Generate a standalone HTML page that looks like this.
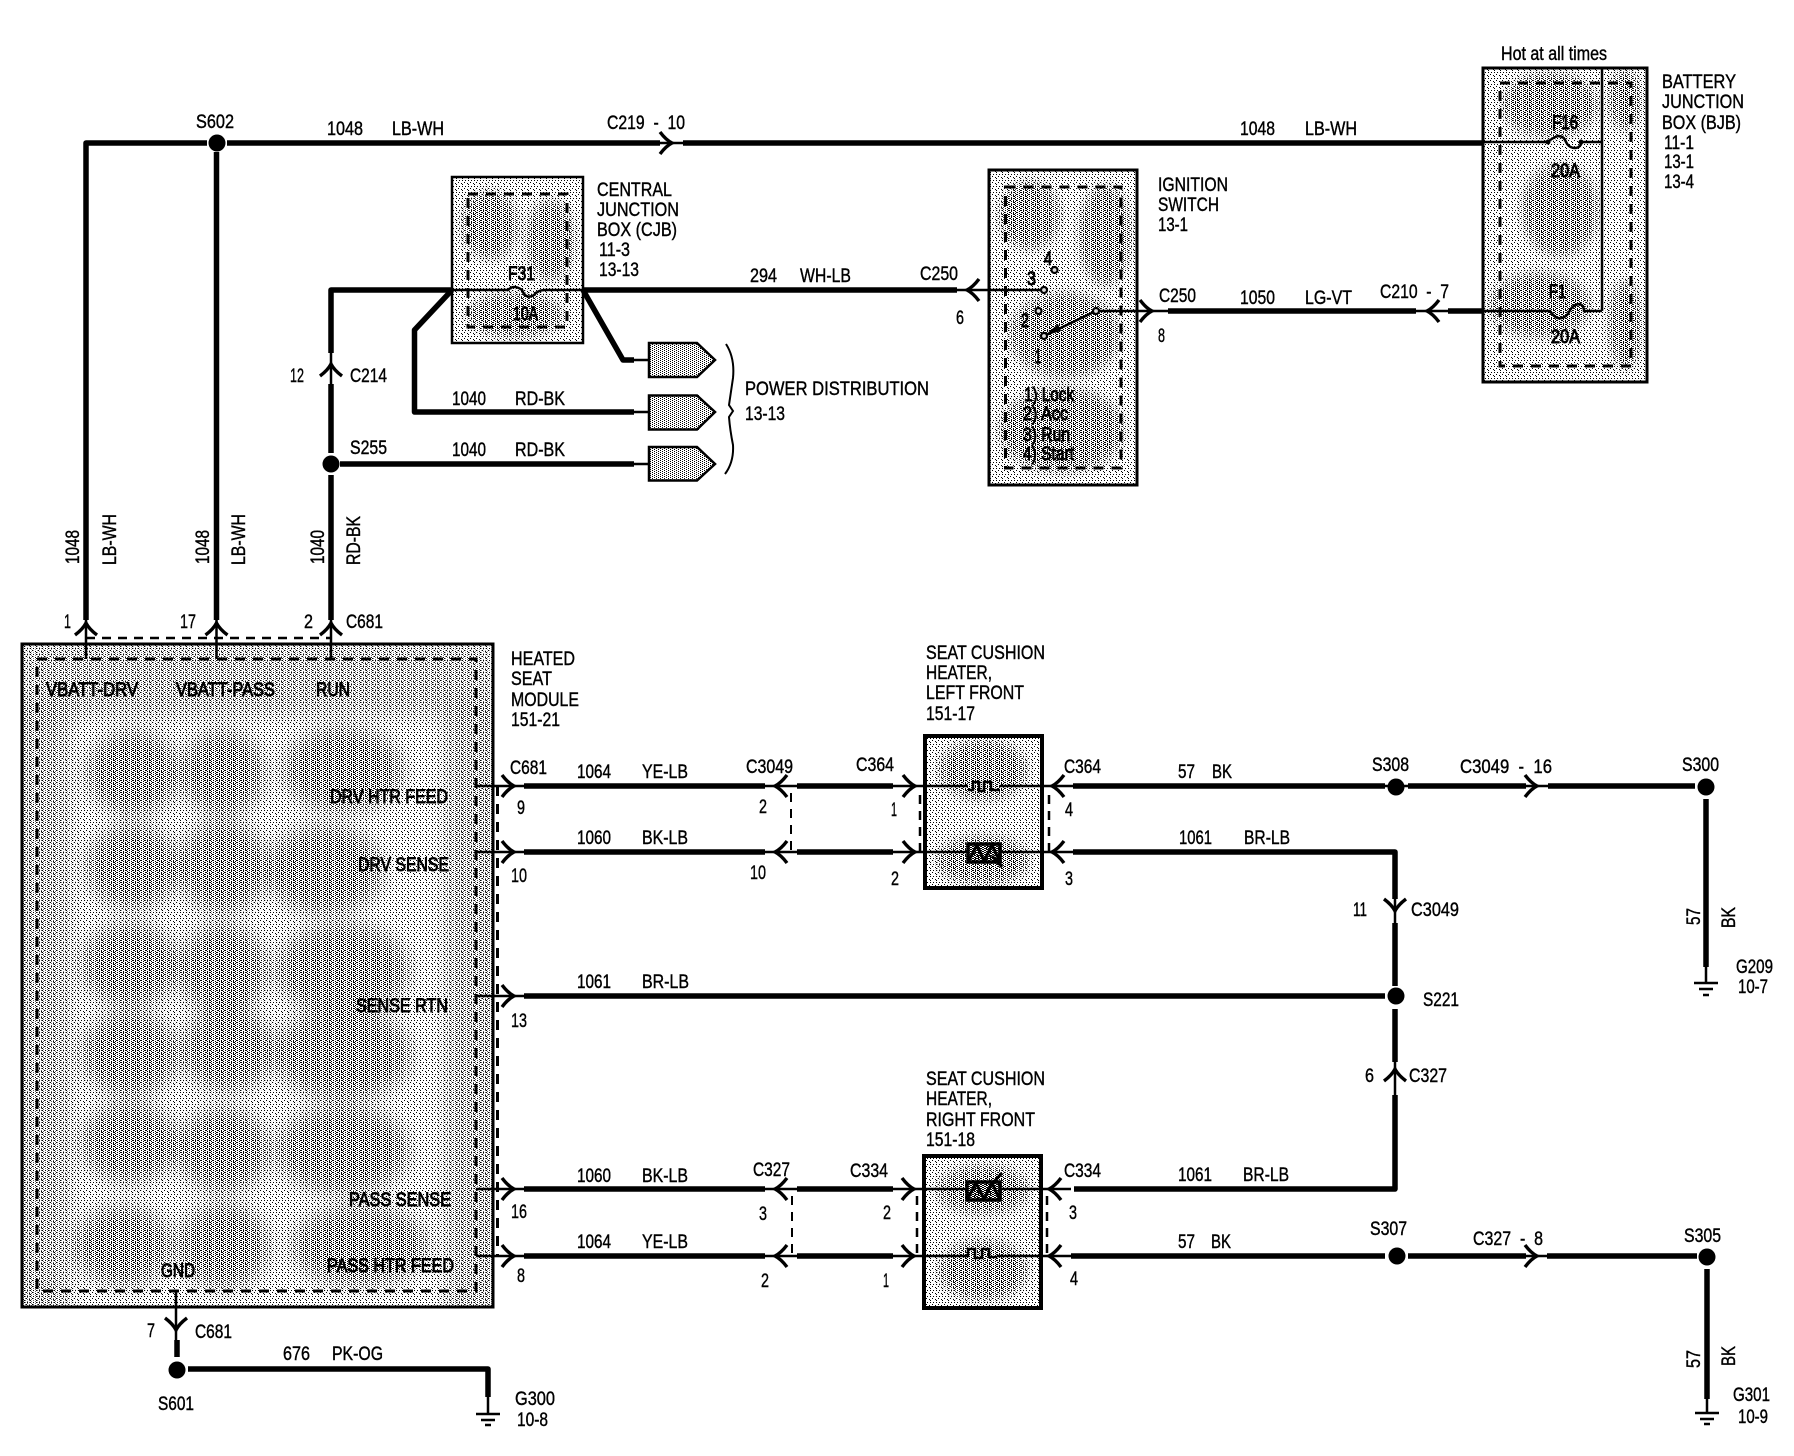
<!DOCTYPE html>
<html><head><meta charset="utf-8"><style>
html,body{margin:0;padding:0;background:#fff}
svg{display:block}
text{font-family:"Liberation Sans",sans-serif;font-size:19px;fill:#000;stroke:#000;stroke-width:.4}
.w{fill:none;stroke:#000;stroke-width:5.5;stroke-linejoin:round}
.t{fill:none;stroke:#000;stroke-width:2.5}
.d{fill:none;stroke:#000;stroke-width:3;stroke-dasharray:10 8}
.e{fill:none;stroke:#000;stroke-width:2;stroke-dasharray:9 7}
.b{fill:none;stroke:#000;stroke-width:3}
.m text{stroke-width:.9}
</style></head><body>
<svg xmlns="http://www.w3.org/2000/svg" width="1794" height="1456" viewBox="0 0 1794 1456">
<defs>
<pattern id="p1" width="6" height="6" patternUnits="userSpaceOnUse"><path d="M0 0h1v1h-1zM3 0h1v1h-1zM2 2h1v1h-1zM5 3h1v1h-1zM0 4h1v1h-1z" shape-rendering="crispEdges"/></pattern>
<pattern id="p3" width="4" height="4" patternUnits="userSpaceOnUse"><path d="M0 0h1v1h-1zM2 1h1v1h-1zM0 2h1v1h-1zM2 3h1v1h-1z" shape-rendering="crispEdges"/></pattern>
<pattern id="p2" width="4" height="4" patternUnits="userSpaceOnUse"><path d="M1 0h1v1h-1zM3 1h1v1h-1zM1 2h1v1h-1zM3 3h1v1h-1z" shape-rendering="crispEdges"/></pattern>
<path id="ar" d="M-12 -11Q-6 -3 0 0Q-6 3 -12 11" fill="none" stroke="#000" stroke-width="3.4"/>
<filter id="bl" x="-30%" y="-30%" width="160%" height="160%"><feGaussianBlur stdDeviation="9"/></filter>
<filter id="bs" x="-40%" y="-40%" width="180%" height="180%"><feGaussianBlur stdDeviation="5"/></filter>
<mask id="mk" maskUnits="userSpaceOnUse" x="0" y="0" width="1794" height="1456">
<rect width="1794" height="1456" fill="#000"/>
<g filter="url(#bl)" fill="#fff">
<rect x="22" y="644" width="471" height="72" opacity=".55"/>
<rect x="10" y="700" width="60" height="620" opacity=".6"/>
<rect x="445" y="700" width="60" height="620" opacity=".6"/>
<ellipse cx="133" cy="773" rx="46" ry="42"/><ellipse cx="223" cy="773" rx="42" ry="42"/><ellipse cx="343" cy="770" rx="60" ry="42"/>
<ellipse cx="133" cy="867" rx="46" ry="42"/><ellipse cx="223" cy="867" rx="44" ry="46"/><ellipse cx="325" cy="870" rx="58" ry="44"/>
<ellipse cx="130" cy="965" rx="48" ry="42"/><ellipse cx="223" cy="970" rx="44" ry="46"/><ellipse cx="343" cy="970" rx="66" ry="46"/>
<ellipse cx="130" cy="1054" rx="48" ry="42"/><ellipse cx="228" cy="1050" rx="46" ry="42"/><ellipse cx="343" cy="1054" rx="68" ry="46"/>
<ellipse cx="130" cy="1143" rx="48" ry="40"/><ellipse cx="223" cy="1150" rx="46" ry="42"/><ellipse cx="343" cy="1150" rx="66" ry="44"/>
<ellipse cx="123" cy="1246" rx="48" ry="40"/><ellipse cx="223" cy="1246" rx="46" ry="42"/><ellipse cx="360" cy="1246" rx="68" ry="40"/>
</g>
<g filter="url(#bs)" fill="#fff">
<ellipse cx="490" cy="225" rx="28" ry="34"/><ellipse cx="550" cy="240" rx="24" ry="40"/><ellipse cx="515" cy="315" rx="48" ry="22"/>
<ellipse cx="1030" cy="215" rx="30" ry="34"/><ellipse cx="1105" cy="235" rx="26" ry="50"/><ellipse cx="1065" cy="335" rx="55" ry="42"/><ellipse cx="1062" cy="430" rx="62" ry="42"/>
<ellipse cx="1550" cy="105" rx="48" ry="32"/><ellipse cx="1560" cy="210" rx="38" ry="46"/><ellipse cx="1540" cy="305" rx="50" ry="32"/><ellipse cx="1625" cy="100" rx="16" ry="30"/><ellipse cx="1625" cy="325" rx="16" ry="44"/>
<ellipse cx="983" cy="770" rx="44" ry="30"/><ellipse cx="983" cy="860" rx="46" ry="24"/>
<ellipse cx="983" cy="1190" rx="46" ry="24"/><ellipse cx="983" cy="1270" rx="44" ry="30"/>
</g>
</mask>
</defs>
<rect width="1794" height="1456" fill="#fff"/>

<!-- Box fills -->
<rect x="22" y="644" width="471" height="663" fill="url(#p1)"/>
<rect x="452" y="177" width="131" height="166" fill="url(#p1)"/>
<rect x="989" y="170" width="148" height="315" fill="url(#p1)"/>
<rect x="1483" y="68" width="164" height="314" fill="url(#p1)"/>
<rect x="925" y="736" width="117" height="152" fill="url(#p1)"/>
<rect x="924" y="1156" width="117" height="152" fill="url(#p1)"/>
<rect x="649" y="343" width="50" height="34" fill="url(#p3)"/><rect x="649" y="395" width="50" height="35" fill="url(#p3)"/><rect x="649" y="447" width="50" height="34" fill="url(#p3)"/>
<g mask="url(#mk)">
<rect x="22" y="644" width="471" height="663" fill="url(#p2)"/>
<rect x="452" y="177" width="131" height="166" fill="url(#p2)"/>
<rect x="989" y="170" width="148" height="315" fill="url(#p2)"/>
<rect x="1483" y="68" width="164" height="314" fill="url(#p2)"/>
<rect x="925" y="736" width="117" height="152" fill="url(#p2)"/>
<rect x="924" y="1156" width="117" height="152" fill="url(#p2)"/>
</g>

<!-- Box outlines -->
<rect x="22" y="644" width="471" height="663" class="b"/>
<rect x="37" y="659" width="439" height="632" class="d"/>
<rect x="452" y="177" width="131" height="166" class="b" style="stroke-width:2.5"/>
<rect x="468" y="194" width="99" height="133" class="d"/>
<rect x="989" y="170" width="148" height="315" class="b"/>
<rect x="1005.5" y="187" width="115.5" height="281" class="d"/>
<rect x="1483" y="68" width="164" height="314" class="b"/>
<rect x="1500" y="83" width="131" height="283" class="d"/>
<path d="M1602 68V311" class="t"/>
<rect x="925" y="736" width="117" height="152" fill="none" stroke="#000" stroke-width="4"/>
<rect x="924" y="1156" width="117" height="152" fill="none" stroke="#000" stroke-width="4"/>

<!-- Thick wires -->
<g class="w">
<path d="M207 143H86V620"/>
<path d="M227 143H660"/>
<path d="M683 143H1483"/>
<path d="M216.500 152V620"/>
<path d="M452 290H331V353"/>
<path d="M331 384V453"/>
<path d="M331 475V620"/>
<path d="M340 464H634"/>
<path d="M452 290L414.500 330V412H634"/>
<path d="M583 290L623 360H634"/>
<path d="M583 290H957"/>
<path d="M1168 311H1416"/>
<path d="M1448 311H1483"/>
<path d="M524 786H765M797 786H893"/>
<path d="M524 852H765M797 852H893"/>
<path d="M1073 786H1385M1408 786H1526M1548 786H1695"/>
<path d="M1073 852H1395V899"/>
<path d="M1395 923V986M1395 1009V1062M1395 1095V1189H1074"/>
<path d="M524 996H1385"/>
<path d="M524 1189H765M797 1189H893"/>
<path d="M524 1256H765M797 1256H893"/>
<path d="M1071 1256H1385M1408 1256H1526M1547 1256H1697"/>
<path d="M1706 799V967M1707 1269V1399"/>
<path d="M177 1340V1357M188 1369H488V1397"/>
</g>

<!-- Thin wires -->
<g class="t">
<path d="M86 620V659M216.500 620V659M331 620V659M331 353V384"/>
<path d="M660 143H683"/>
<path d="M452 290H508Q514 284 522 290Q526 300 534 295Q538 290 545 290H583"/>
<path d="M634 360H649M634 412H649M634 464H649"/>
<path d="M957 290H1044M1096 311H1168M1416 311H1448"/>
<path d="M1096 311L1044 336"/>
<path d="M1483 142H1548Q1552 138 1558 136Q1564 136 1566 142Q1569 148 1575 148Q1580 148 1582 142H1602"/>
<path d="M1483 311H1550Q1556 320 1562 318Q1568 316 1570 310Q1574 304 1580 304Q1584 306 1584 311H1602"/>
<path d="M476 786H524M765 786H797M893 786H968M1000 786H1073"/>
<path d="M476 852H524M765 852H797M893 852H967M1000 852H1073"/>
<path d="M476 996H524"/>
<path d="M476 1189H524M765 1189H797M893 1189H966M1000 1189H1071"/>
<path d="M476 1256H524M765 1256H797M893 1256H963M997 1256H1071"/>
<path d="M1395 899V923M1395 1062V1095"/>
<path d="M1385 786H1408M1526 786H1548M1526 1256H1547"/>
<path d="M176 1291V1340"/>
<path d="M488 1397V1414M1706 967V983M1707 1399V1413"/>
<path d="M476 1414H500M481 1420H495M485 1425H491"/>
<path d="M1694 983H1718M1699 989H1713M1703 995H1709"/>
<path d="M1695 1413H1719M1700 1419H1714M1704 1424H1710"/>
<path d="M968 790H973V782H979V791H984V782H991V790H1000"/>
<path d="M963 1256H968V1249H975V1258H982V1249H989V1257H997"/>
</g>
<!-- Sensor symbols -->
<rect x="968" y="844" width="32" height="18" fill="url(#p3)" stroke="#000" stroke-width="3.5"/>
<path d="M968 862L977 845L984 861L992 845L1000 862M992 856L1002 867" fill="none" stroke="#000" stroke-width="3"/>
<rect x="967" y="1182" width="33" height="18" fill="url(#p3)" stroke="#000" stroke-width="3.5"/>
<path d="M967 1200L976 1183L984 1199L992 1183L1000 1200M990 1186L1002 1173" fill="none" stroke="#000" stroke-width="3"/>

<!-- Dashed links -->
<path d="M86 638H331" class="e" style="stroke-width:2.500"/>
<path d="M497.500 786V1256" class="d"/>
<path d="M791 793V852M792 1196V1256" class="e"/>
<path d="M920 795V852M917 1196V1256M1049 795V852M1047 1196V1256" class="e" style="stroke-width:2.500"/>

<!-- Chevrons -->
<g>
<use href="#ar" transform="translate(672 143)"/>
<use href="#ar" transform="translate(86 623) rotate(-90)"/>
<use href="#ar" transform="translate(216.500 623) rotate(-90)"/>
<use href="#ar" transform="translate(331 623) rotate(-90)"/>
<use href="#ar" transform="translate(331 364) rotate(-90)"/>
<use href="#ar" transform="translate(967 290) rotate(180)"/>
<use href="#ar" transform="translate(1152 311)"/>
<use href="#ar" transform="translate(1427 311) rotate(180)"/>
<use href="#ar" transform="translate(514 786)"/>
<use href="#ar" transform="translate(514 852)"/>
<use href="#ar" transform="translate(514 996)"/>
<use href="#ar" transform="translate(514 1189)"/>
<use href="#ar" transform="translate(514 1256)"/>
<use href="#ar" transform="translate(775 786) rotate(180)"/>
<use href="#ar" transform="translate(775 852) rotate(180)"/>
<use href="#ar" transform="translate(775 1189) rotate(180)"/>
<use href="#ar" transform="translate(775 1256) rotate(180)"/>
<use href="#ar" transform="translate(915 786)"/>
<use href="#ar" transform="translate(915 852)"/>
<use href="#ar" transform="translate(914 1189)"/>
<use href="#ar" transform="translate(914 1256)"/>
<use href="#ar" transform="translate(1052 786) rotate(180)"/>
<use href="#ar" transform="translate(1052 852) rotate(180)"/>
<use href="#ar" transform="translate(1049 1189) rotate(180)"/>
<use href="#ar" transform="translate(1049 1256) rotate(180)"/>
<use href="#ar" transform="translate(1537 786)"/>
<use href="#ar" transform="translate(1537 1256)"/>
<use href="#ar" transform="translate(1395 911) rotate(90)"/>
<use href="#ar" transform="translate(1395 1069) rotate(-90)"/>
<use href="#ar" transform="translate(176 1330) rotate(90)"/>
</g>

<!-- Dots -->
<g fill="#000">
<circle cx="217" cy="143" r="8.500"/><circle cx="331" cy="464" r="8.500"/>
<circle cx="1396" cy="787" r="8.500"/><circle cx="1706" cy="787" r="8.500"/>
<circle cx="1396" cy="996" r="8.500"/><circle cx="1397" cy="1256" r="8.500"/>
<circle cx="1707" cy="1257" r="8.500"/><circle cx="177" cy="1370" r="8.500"/>
<circle cx="1548" cy="142" r="2.500"/><circle cx="1581" cy="142" r="2.500"/>
<path d="M1044 336L1058 324L1061 331Z"/>
</g>
<g fill="#ddd" stroke="#000" stroke-width="2.200">
<circle cx="1044" cy="290" r="3"/><circle cx="1054.500" cy="270" r="3"/><circle cx="1038.500" cy="311" r="3"/><circle cx="1044" cy="336" r="3"/><circle cx="1096" cy="311" r="3"/>
</g>

<!-- Connectors and brace -->
<path d="M649 343H697L715 360L697 377H649Z" class="t" style="fill:url(#p3)"/>
<path d="M649 395.500H697L715 412L697 429.500H649Z" class="t" style="fill:url(#p3)"/>
<path d="M649 447H697L715 464L697 480.500H649Z" class="t" style="fill:url(#p3)"/>
<path d="M726 344Q735 358 733 378Q730 398 729 405L733 411L729 417Q730 430 733 445Q734 462 725 474" class="t" style="stroke-width:2"/>

<!-- Labels -->
<text x="196" y="128" textLength="38" lengthAdjust="spacingAndGlyphs">S602</text>
<text x="327" y="135" textLength="36" lengthAdjust="spacingAndGlyphs">1048</text>
<text x="392" y="135" textLength="52" lengthAdjust="spacingAndGlyphs">LB-WH</text>
<text x="607" y="129" textLength="78" lengthAdjust="spacingAndGlyphs" xml:space="preserve">C219  -  10</text>
<text x="597" y="196" textLength="75" lengthAdjust="spacingAndGlyphs">CENTRAL</text>
<text x="597" y="216" textLength="82" lengthAdjust="spacingAndGlyphs">JUNCTION</text>
<text x="597" y="236" textLength="80" lengthAdjust="spacingAndGlyphs">BOX (CJB)</text>
<text x="599" y="256" textLength="31" lengthAdjust="spacingAndGlyphs">11-3</text>
<text x="599" y="276" textLength="40" lengthAdjust="spacingAndGlyphs">13-13</text>
<text x="750" y="282" textLength="27" lengthAdjust="spacingAndGlyphs">294</text>
<text x="800" y="282" textLength="51" lengthAdjust="spacingAndGlyphs">WH-LB</text>
<text x="290" y="382" textLength="14" lengthAdjust="spacingAndGlyphs">12</text>
<text x="350" y="382" textLength="37" lengthAdjust="spacingAndGlyphs">C214</text>
<text x="452" y="405" textLength="34" lengthAdjust="spacingAndGlyphs">1040</text>
<text x="515" y="405" textLength="50" lengthAdjust="spacingAndGlyphs">RD-BK</text>
<text x="745" y="395" textLength="184" lengthAdjust="spacingAndGlyphs">POWER DISTRIBUTION</text>
<text x="745" y="420" textLength="40" lengthAdjust="spacingAndGlyphs">13-13</text>
<text x="350" y="454" textLength="37" lengthAdjust="spacingAndGlyphs">S255</text>
<text x="452" y="456" textLength="34" lengthAdjust="spacingAndGlyphs">1040</text>
<text x="515" y="456" textLength="50" lengthAdjust="spacingAndGlyphs">RD-BK</text>
<text transform="translate(79 564) rotate(-90)" textLength="34" lengthAdjust="spacingAndGlyphs">1048</text>
<text transform="translate(116 565) rotate(-90)" textLength="51" lengthAdjust="spacingAndGlyphs">LB-WH</text>
<text transform="translate(209 564) rotate(-90)" textLength="34" lengthAdjust="spacingAndGlyphs">1048</text>
<text transform="translate(245 565) rotate(-90)" textLength="51" lengthAdjust="spacingAndGlyphs">LB-WH</text>
<text transform="translate(324 564) rotate(-90)" textLength="34" lengthAdjust="spacingAndGlyphs">1040</text>
<text transform="translate(360 565) rotate(-90)" textLength="49" lengthAdjust="spacingAndGlyphs">RD-BK</text>
<text x="64" y="628" textLength="7" lengthAdjust="spacingAndGlyphs">1</text>
<text x="180" y="628" textLength="16" lengthAdjust="spacingAndGlyphs">17</text>
<text x="304" y="628" textLength="9" lengthAdjust="spacingAndGlyphs">2</text>
<text x="346" y="628" textLength="37" lengthAdjust="spacingAndGlyphs">C681</text>
<text x="511" y="665" textLength="64" lengthAdjust="spacingAndGlyphs">HEATED</text>
<text x="511" y="685" textLength="41" lengthAdjust="spacingAndGlyphs">SEAT</text>
<text x="511" y="706" textLength="68" lengthAdjust="spacingAndGlyphs">MODULE</text>
<text x="511" y="726" textLength="49" lengthAdjust="spacingAndGlyphs">151-21</text>
<g class="m">
<text x="46" y="696" textLength="92" lengthAdjust="spacingAndGlyphs">VBATT-DRV</text>
<text x="176" y="696" textLength="99" lengthAdjust="spacingAndGlyphs">VBATT-PASS</text>
<text x="316" y="696" textLength="34" lengthAdjust="spacingAndGlyphs">RUN</text>
<text x="330" y="803" textLength="118" lengthAdjust="spacingAndGlyphs">DRV HTR FEED</text>
<text x="358" y="871" textLength="91" lengthAdjust="spacingAndGlyphs">DRV SENSE</text>
<text x="356" y="1012" textLength="92" lengthAdjust="spacingAndGlyphs">SENSE RTN</text>
<text x="349" y="1206" textLength="102" lengthAdjust="spacingAndGlyphs">PASS SENSE</text>
<text x="327" y="1272" textLength="127" lengthAdjust="spacingAndGlyphs">PASS HTR FEED</text>
<text x="161" y="1277" textLength="34" lengthAdjust="spacingAndGlyphs">GND</text>
<text x="1552" y="129" textLength="26" lengthAdjust="spacingAndGlyphs">F16</text>
<text x="1551" y="177" textLength="29" lengthAdjust="spacingAndGlyphs">20A</text>
<text x="1549" y="298" textLength="17" lengthAdjust="spacingAndGlyphs">F1</text>
<text x="1551" y="343" textLength="29" lengthAdjust="spacingAndGlyphs">20A</text>
<text x="508" y="280" textLength="27" lengthAdjust="spacingAndGlyphs">F31</text>
<text x="513" y="320" textLength="25" lengthAdjust="spacingAndGlyphs">10A</text>
<text x="1044" y="265" textLength="8" lengthAdjust="spacingAndGlyphs">4</text>
<text x="1027" y="285" textLength="9" lengthAdjust="spacingAndGlyphs">3</text>
<text x="1021" y="327" textLength="8" lengthAdjust="spacingAndGlyphs">2</text>
<text x="1035" y="363" textLength="6" lengthAdjust="spacingAndGlyphs">1</text>
<text x="1024" y="401" textLength="50" lengthAdjust="spacingAndGlyphs">1) Lock</text>
<text x="1023" y="420" textLength="45" lengthAdjust="spacingAndGlyphs">2) Acc</text>
<text x="1023" y="441" textLength="47" lengthAdjust="spacingAndGlyphs">3) Run</text>
<text x="1023" y="460" textLength="51" lengthAdjust="spacingAndGlyphs">4) Start</text>
</g>
<text x="510" y="774" textLength="37" lengthAdjust="spacingAndGlyphs">C681</text>
<text x="577" y="778" textLength="34" lengthAdjust="spacingAndGlyphs">1064</text>
<text x="642" y="778" textLength="46" lengthAdjust="spacingAndGlyphs">YE-LB</text>
<text x="746" y="773" textLength="47" lengthAdjust="spacingAndGlyphs">C3049</text>
<text x="856" y="771" textLength="38" lengthAdjust="spacingAndGlyphs">C364</text>
<text x="517" y="814" textLength="8" lengthAdjust="spacingAndGlyphs">9</text>
<text x="759" y="813" textLength="8" lengthAdjust="spacingAndGlyphs">2</text>
<text x="891" y="816" textLength="6" lengthAdjust="spacingAndGlyphs">1</text>
<text x="577" y="844" textLength="34" lengthAdjust="spacingAndGlyphs">1060</text>
<text x="642" y="844" textLength="46" lengthAdjust="spacingAndGlyphs">BK-LB</text>
<text x="511" y="882" textLength="16" lengthAdjust="spacingAndGlyphs">10</text>
<text x="750" y="879" textLength="16" lengthAdjust="spacingAndGlyphs">10</text>
<text x="891" y="885" textLength="8" lengthAdjust="spacingAndGlyphs">2</text>
<text x="577" y="988" textLength="34" lengthAdjust="spacingAndGlyphs">1061</text>
<text x="642" y="988" textLength="47" lengthAdjust="spacingAndGlyphs">BR-LB</text>
<text x="511" y="1027" textLength="16" lengthAdjust="spacingAndGlyphs">13</text>
<text x="577" y="1182" textLength="34" lengthAdjust="spacingAndGlyphs">1060</text>
<text x="642" y="1182" textLength="46" lengthAdjust="spacingAndGlyphs">BK-LB</text>
<text x="753" y="1176" textLength="37" lengthAdjust="spacingAndGlyphs">C327</text>
<text x="850" y="1177" textLength="38" lengthAdjust="spacingAndGlyphs">C334</text>
<text x="511" y="1218" textLength="16" lengthAdjust="spacingAndGlyphs">16</text>
<text x="759" y="1220" textLength="8" lengthAdjust="spacingAndGlyphs">3</text>
<text x="883" y="1219" textLength="8" lengthAdjust="spacingAndGlyphs">2</text>
<text x="577" y="1248" textLength="34" lengthAdjust="spacingAndGlyphs">1064</text>
<text x="642" y="1248" textLength="46" lengthAdjust="spacingAndGlyphs">YE-LB</text>
<text x="517" y="1282" textLength="8" lengthAdjust="spacingAndGlyphs">8</text>
<text x="761" y="1287" textLength="8" lengthAdjust="spacingAndGlyphs">2</text>
<text x="883" y="1287" textLength="6" lengthAdjust="spacingAndGlyphs">1</text>
<text x="147" y="1337" textLength="8" lengthAdjust="spacingAndGlyphs">7</text>
<text x="195" y="1338" textLength="37" lengthAdjust="spacingAndGlyphs">C681</text>
<text x="283" y="1360" textLength="27" lengthAdjust="spacingAndGlyphs">676</text>
<text x="332" y="1360" textLength="51" lengthAdjust="spacingAndGlyphs">PK-OG</text>
<text x="158" y="1410" textLength="36" lengthAdjust="spacingAndGlyphs">S601</text>
<text x="515" y="1405" textLength="40" lengthAdjust="spacingAndGlyphs">G300</text>
<text x="517" y="1426" textLength="31" lengthAdjust="spacingAndGlyphs">10-8</text>
<text x="1501" y="60" textLength="106" lengthAdjust="spacingAndGlyphs">Hot at all times</text>
<text x="1662" y="88" textLength="74" lengthAdjust="spacingAndGlyphs">BATTERY</text>
<text x="1662" y="108" textLength="82" lengthAdjust="spacingAndGlyphs">JUNCTION</text>
<text x="1662" y="129" textLength="79" lengthAdjust="spacingAndGlyphs">BOX (BJB)</text>
<text x="1664" y="149" textLength="30" lengthAdjust="spacingAndGlyphs">11-1</text>
<text x="1664" y="168" textLength="30" lengthAdjust="spacingAndGlyphs">13-1</text>
<text x="1664" y="188" textLength="30" lengthAdjust="spacingAndGlyphs">13-4</text>
<text x="1240" y="135" textLength="35" lengthAdjust="spacingAndGlyphs">1048</text>
<text x="1305" y="135" textLength="52" lengthAdjust="spacingAndGlyphs">LB-WH</text>
<text x="1158" y="191" textLength="70" lengthAdjust="spacingAndGlyphs">IGNITION</text>
<text x="1158" y="211" textLength="61" lengthAdjust="spacingAndGlyphs">SWITCH</text>
<text x="1158" y="231" textLength="30" lengthAdjust="spacingAndGlyphs">13-1</text>
<text x="920" y="280" textLength="38" lengthAdjust="spacingAndGlyphs">C250</text>
<text x="956" y="324" textLength="8" lengthAdjust="spacingAndGlyphs">6</text>
<text x="1159" y="302" textLength="37" lengthAdjust="spacingAndGlyphs">C250</text>
<text x="1158" y="342" textLength="7" lengthAdjust="spacingAndGlyphs">8</text>
<text x="1240" y="304" textLength="35" lengthAdjust="spacingAndGlyphs">1050</text>
<text x="1305" y="304" textLength="47" lengthAdjust="spacingAndGlyphs">LG-VT</text>
<text x="1380" y="298" textLength="69" lengthAdjust="spacingAndGlyphs" xml:space="preserve">C210  -  7</text>
<text x="926" y="659" textLength="119" lengthAdjust="spacingAndGlyphs">SEAT CUSHION</text>
<text x="926" y="679" textLength="66" lengthAdjust="spacingAndGlyphs">HEATER,</text>
<text x="926" y="699" textLength="98" lengthAdjust="spacingAndGlyphs">LEFT FRONT</text>
<text x="926" y="720" textLength="49" lengthAdjust="spacingAndGlyphs">151-17</text>
<text x="1064" y="773" textLength="37" lengthAdjust="spacingAndGlyphs">C364</text>
<text x="1178" y="778" textLength="17" lengthAdjust="spacingAndGlyphs">57</text>
<text x="1212" y="778" textLength="20" lengthAdjust="spacingAndGlyphs">BK</text>
<text x="1372" y="771" textLength="37" lengthAdjust="spacingAndGlyphs">S308</text>
<text x="1460" y="773" textLength="92" lengthAdjust="spacingAndGlyphs" xml:space="preserve">C3049  -  16</text>
<text x="1682" y="771" textLength="37" lengthAdjust="spacingAndGlyphs">S300</text>
<text x="1065" y="816" textLength="8" lengthAdjust="spacingAndGlyphs">4</text>
<text x="1179" y="844" textLength="33" lengthAdjust="spacingAndGlyphs">1061</text>
<text x="1244" y="844" textLength="46" lengthAdjust="spacingAndGlyphs">BR-LB</text>
<text x="1065" y="885" textLength="8" lengthAdjust="spacingAndGlyphs">3</text>
<text x="1353" y="916" textLength="14" lengthAdjust="spacingAndGlyphs">11</text>
<text x="1411" y="916" textLength="48" lengthAdjust="spacingAndGlyphs">C3049</text>
<text transform="translate(1700 925) rotate(-90)" textLength="17" lengthAdjust="spacingAndGlyphs">57</text>
<text transform="translate(1735 928) rotate(-90)" textLength="21" lengthAdjust="spacingAndGlyphs">BK</text>
<text x="1736" y="973" textLength="37" lengthAdjust="spacingAndGlyphs">G209</text>
<text x="1738" y="993" textLength="30" lengthAdjust="spacingAndGlyphs">10-7</text>
<text x="1423" y="1006" textLength="36" lengthAdjust="spacingAndGlyphs">S221</text>
<text x="1365" y="1082" textLength="9" lengthAdjust="spacingAndGlyphs">6</text>
<text x="1409" y="1082" textLength="38" lengthAdjust="spacingAndGlyphs">C327</text>
<text x="926" y="1085" textLength="119" lengthAdjust="spacingAndGlyphs">SEAT CUSHION</text>
<text x="926" y="1105" textLength="66" lengthAdjust="spacingAndGlyphs">HEATER,</text>
<text x="926" y="1126" textLength="109" lengthAdjust="spacingAndGlyphs">RIGHT FRONT</text>
<text x="926" y="1146" textLength="49" lengthAdjust="spacingAndGlyphs">151-18</text>
<text x="1064" y="1177" textLength="37" lengthAdjust="spacingAndGlyphs">C334</text>
<text x="1178" y="1181" textLength="34" lengthAdjust="spacingAndGlyphs">1061</text>
<text x="1243" y="1181" textLength="46" lengthAdjust="spacingAndGlyphs">BR-LB</text>
<text x="1069" y="1219" textLength="8" lengthAdjust="spacingAndGlyphs">3</text>
<text x="1178" y="1248" textLength="17" lengthAdjust="spacingAndGlyphs">57</text>
<text x="1211" y="1248" textLength="20" lengthAdjust="spacingAndGlyphs">BK</text>
<text x="1370" y="1235" textLength="37" lengthAdjust="spacingAndGlyphs">S307</text>
<text x="1473" y="1245" textLength="70" lengthAdjust="spacingAndGlyphs" xml:space="preserve">C327  -  8</text>
<text x="1684" y="1242" textLength="37" lengthAdjust="spacingAndGlyphs">S305</text>
<text x="1070" y="1285" textLength="8" lengthAdjust="spacingAndGlyphs">4</text>
<text transform="translate(1700 1368) rotate(-90)" textLength="18" lengthAdjust="spacingAndGlyphs">57</text>
<text transform="translate(1735 1366) rotate(-90)" textLength="20" lengthAdjust="spacingAndGlyphs">BK</text>
<text x="1733" y="1401" textLength="37" lengthAdjust="spacingAndGlyphs">G301</text>
<text x="1738" y="1423" textLength="30" lengthAdjust="spacingAndGlyphs">10-9</text>
</svg>
</body></html>
